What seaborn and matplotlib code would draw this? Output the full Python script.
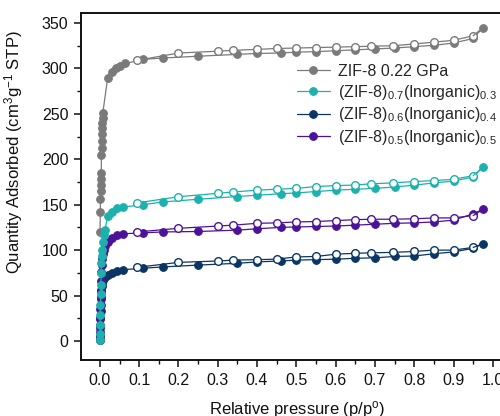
import matplotlib
matplotlib.use("Agg")
import matplotlib.pyplot as plt
import seaborn as sns
import pandas as pd

# Relative pressure grid shared by the upper part of every isotherm
p_ads_high = [0.11, 0.16, 0.25, 0.35, 0.40, 0.46, 0.50, 0.55, 0.60, 0.65,
              0.70, 0.75, 0.80, 0.85, 0.90, 0.95, 0.975]
p_des = [0.95, 0.90, 0.85, 0.80, 0.745, 0.69, 0.65, 0.60, 0.55, 0.50,
         0.45, 0.40, 0.34, 0.30, 0.20, 0.095]

# ZIF-8 0.22 GPa
zif8_low_p = [0.0005, 0.001, 0.0015, 0.002, 0.0025, 0.003, 0.0035, 0.004,
              0.0045, 0.005, 0.0055, 0.006, 0.0065, 0.007, 0.0075,
              0.02, 0.03, 0.04, 0.05, 0.065]
zif8_low_q = [120, 142, 156, 165, 172, 178, 185, 205, 212, 220, 228, 234,
              240, 246, 251, 290, 296, 300, 303, 305.5]
zif8_ads_q = [310, 311.5, 313.5, 315.5, 316.5, 317, 318, 318.5, 319.5, 320.5,
              321.5, 322.5, 324, 325.5, 328, 333, 345]
zif8_des_q = [336, 331, 329, 327, 325, 324.5, 324, 323.5, 323, 322.5,
              322, 321, 320, 319, 317, 309]

# Low-pressure grid for the composites
comp_low_p = [0.0, 0.0003, 0.0006, 0.001, 0.0015, 0.002, 0.0025, 0.003,
              0.004, 0.005, 0.006, 0.008, 0.010, 0.013, 0.02, 0.03, 0.043, 0.06]

# (ZIF-8)0.7(Inorganic)0.3
c73_low_q = [1, 8, 18, 29, 40, 52, 62, 75, 86, 93, 100, 109, 117, 122,
             137.5, 142, 146, 147.5]
c73_ads_q = [150, 153, 156, 159, 160.5, 162, 163, 164.5, 166, 167,
             168, 169.5, 171.5, 174, 176, 180.5, 191.5]
c73_des_q = [182, 178, 176.5, 175.5, 174, 173, 171.7, 171, 170, 168,
             167, 166, 164, 162.5, 158.8, 152]

# (ZIF-8)0.6(Inorganic)0.4
c64_low_q = [1, 5, 10, 17, 25, 33, 40, 48, 55, 60, 64, 67, 69, 70.5,
             72.5, 75, 77.5, 78.5]
c64_ads_q = [80, 81.5, 83.5, 85.5, 87, 88, 89, 89.5, 90, 91,
             91.5, 93, 93.5, 96, 98, 102, 107]
c64_des_q = [103, 100, 100, 98.5, 97.5, 97, 96.5, 95.5, 93, 92.5,
             90, 89.5, 89, 88, 86.5, 81]

# (ZIF-8)0.5(Inorganic)0.5
c55_low_q = [1, 6, 14, 24, 35, 46, 56, 66, 76, 84, 90, 96, 100, 104,
             109, 113, 116.5, 118]
c55_ads_q = [119, 120, 120.5, 122, 123.5, 125, 125.5, 126, 126.5, 127.5,
             128.5, 129.5, 130, 131, 133, 140, 145]
c55_des_q = [138, 135.5, 135.4, 134.5, 134, 134, 133.5, 132.5, 131.5, 131,
             130, 129.5, 127.5, 126.5, 124, 120]

labels = ["ZIF-8 0.22 GPa",
          "(ZIF-8)$_{0.7}$(Inorganic)$_{0.3}$",
          "(ZIF-8)$_{0.6}$(Inorganic)$_{0.4}$",
          "(ZIF-8)$_{0.5}$(Inorganic)$_{0.5}$"]
colors = ["#7a7a7a", "#1db1ad", "#0a3564", "#4c1399"]

sns.set_theme(style="ticks")
plt.rcParams["font.family"] = ["Liberation Sans", "DejaVu Sans"]
plt.rcParams["mathtext.fontset"] = "custom"
plt.rcParams["mathtext.rm"] = "Liberation Sans"
plt.rcParams["mathtext.it"] = "Liberation Sans:italic"
plt.rcParams["mathtext.bf"] = "Liberation Sans:bold"

fig = plt.figure(figsize=(5.0, 4.16), dpi=100)
ax = fig.add_axes([0.162, 0.1346, 0.863, 0.834])

series = [
    (zif8_low_p, zif8_low_q, zif8_ads_q, zif8_des_q),
    (comp_low_p, c64_low_q, c64_ads_q, c64_des_q),
    (comp_low_p, c55_low_q, c55_ads_q, c55_des_q),
    (comp_low_p, c73_low_q, c73_ads_q, c73_des_q),
]
order = [0, 2, 3, 1]

handles = {}
for idx, (lp, lq, aq, dq) in zip(order, series):
    col = colors[idx]
    ads = pd.DataFrame({"p": list(lp) + p_ads_high, "q": list(lq) + aq})
    des = pd.DataFrame({"p": [p_ads_high[-1]] + p_des, "q": [aq[-1]] + dq})
    sns.lineplot(data=ads, x="p", y="q", sort=False, estimator=None,
                 color=col, linewidth=0.9, marker="o", markersize=5.5,
                 markerfacecolor=col, markeredgecolor=col,
                 markeredgewidth=0.8, ax=ax)
    handles[idx] = ax.lines[-1]
    sns.lineplot(data=des.iloc[1:], x="p", y="q", sort=False, estimator=None,
                 color=col, linewidth=0.9, marker="o", markersize=5.5,
                 markerfacecolor="white", markeredgecolor=col,
                 markeredgewidth=1.0, ax=ax)
    # join the top of the adsorption branch to the desorption branch
    sns.lineplot(data=des.iloc[:2], x="p", y="q", sort=False, estimator=None,
                 color=col, linewidth=0.9, ax=ax)

ax.set_xlim(-0.048, 1.05)
ax.set_ylim(-21, 361)
ax.set_xticks([i / 10 for i in range(11)])
ax.set_xticks([i / 20 for i in range(21)], minor=True)
ax.set_xticklabels([f"{i / 10:.1f}" for i in range(11)])
ax.set_yticks(range(0, 351, 50))
ax.set_yticks(range(0, 351, 25), minor=True)

for s in ax.spines.values():
    s.set_linewidth(1.4)
    s.set_color("#111111")
ax.tick_params(axis="both", which="major", direction="out", length=5,
               width=1.1, labelsize=11.5, colors="#111111", pad=4)
ax.tick_params(axis="both", which="minor", direction="out", length=3,
               width=1.0, colors="#111111")

ax.set_xlabel("Relative pressure (p/p$^{\\rm o}$)", fontsize=12, color="#111111")
ax.set_ylabel("Quantity Adsorbed (cm$^3$g$^{-1}$ STP)", fontsize=12,
              color="#111111")
ax.xaxis.set_label_coords(0.5, -0.112)
ax.yaxis.set_label_coords(-0.13, 0.6)

leg = ax.legend([handles[i] for i in range(4)], labels, loc="upper left",
                bbox_to_anchor=(0.594, 0.846), bbox_transform=fig.transFigure,
                frameon=False, fontsize=11.5, handlelength=2.05,
                handletextpad=0.5, labelspacing=0.22, borderpad=0,
                borderaxespad=0)

fig.savefig("out.png", dpi=100)
